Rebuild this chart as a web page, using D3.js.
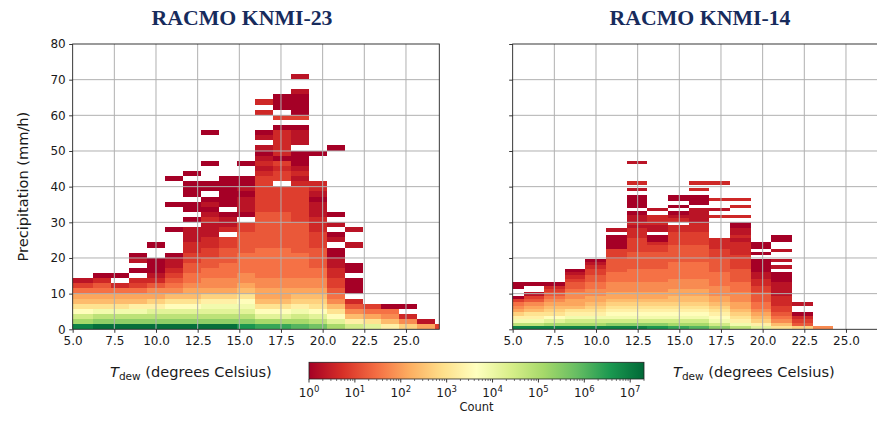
<!DOCTYPE html>
<html><head><meta charset="utf-8">
<script src="https://cdn.jsdelivr.net/npm/d3@7"></script>
<style>body{margin:0;background:#fff}svg{display:block}</style>
</head><body>
<svg id="chart" width="877" height="421"></svg>
<script>
// ---------- data ----------
const titles = ["RACMO KNMI-23", "RACMO KNMI-14"];
const xTicks = [5.0, 7.5, 10.0, 12.5, 15.0, 17.5, 20.0, 22.5, 25.0];
const yTicks = [0, 10, 20, 30, 40, 50, 60, 70, 80];
const cbarTicks = [1, 10, 100, 1000, 10000, 100000, 1000000, 10000000];
const cbarExponents = ["0", "1", "2", "3", "4", "5", "6", "7"];
// count level for letters a..y (approximate counts read from colours)
const countLevels = [1, 2, 4, 8, 16, 32, 63, 126, 251, 501, 1000, 2000, 3980, 7940,
  15800, 31600, 63100, 126000, 251000, 501000, 1000000, 2000000, 3980000, 7940000, 15800000];

// Left panel (KNMI-23): T_dew bin edges, precipitation bin height, columns (bottom row first, '.' = empty)
const leftXEdges = [4.04, 5.12, 6.20, 7.28, 8.36, 9.44, 10.52, 11.60, 12.68, 13.76, 14.84, 15.92,
  17.00, 18.08, 19.16, 20.24, 21.32, 22.40, 23.48, 24.56, 25.64, 26.72, 27.80];
const leftRowHeight = 1.432;
const leftColumns = [
  "xrpmkihfdb",
  "xrpmkihfdb",
  "ysqnkihfeca",
  "ysqnkihfc.a",
  "ysqnlihfdc.a.ba",
  "ysqoljhgecbaaa..a",
  "ysqomkigfedcbba....a....a....a",
  "ysqomkihgffeeddccbbb.a.aa.aaa.a",
  "ysqonljhggffeeddccbbbcbaba.aa...a.....a",
  "ysqonljhggfffeeedd.cbba.aaaaaa",
  "wsqonmkihggffffeeeedd.abbbabaa..a",
  "vromkihhggffffffeeeeeeedddddddcbcbab.ba...c.c",
  "vromkihhggffffffeeeeeeeddddd.ddcdaccccca.d.aaa",
  "urpnljihggfffffeeeeeedddddddcbcbaaa.bbba.daaaab..b",
  "tqomkjihggffeeeedddcccbbbabcc.....a",
  "romkigfeddccbbaa.ba.b.a............a",
  "pligec.aaa.aa...b..b",
  "okhfd",
  "ligfa",
  "jgc.a",
  "hb",
  "d"
];

// Right panel (KNMI-14)
const rightXEdges = [4.41, 5.65, 6.89, 8.13, 9.37, 10.61, 11.85, 13.09, 14.33, 15.57, 16.81,
  18.05, 19.28, 20.52, 21.76, 23.00, 24.24];
const rightRowHeight = 0.944;
const rightColumns = [
  "xqnljhgfda..aa",
  "xqnlkihgedb..a",
  "xromkjihgfedca",
  "xrpnlkihhggfeedcba",
  "xrpnlkjihhggffeeddcba",
  "xspnmlkjihhgggfffeeeedddaaaa.b",
  "xspnmlkjihhgggffffeeeeeddddcccbcbba.aaaa.b.c.....b",
  "wspnmlkjihhgggffffeeeeeddcaa.bbccc.b",
  "vrpnmlkjiihhgggfffffeeeeeddddcc.cba.a.aa",
  "urpnmlkjiihhgggfffffeeeeeddddcccbbbb.aaa.c.c",
  "spnmlkjihhgggffffeeeedddccc......c.b..c....c",
  "qnlkjihhgggfffeeeeddddccccbcbbaa.c..c.c",
  "oljihgffeeeddccbbaaaa.a.aa",
  "kigfeddcccbbbbaaa.b.b..b..aa",
  "jedca..b",
  "g"
];

// ---------- drawing ----------
const svg = d3.select("#chart");
const FONT = "DejaVu Sans, sans-serif";
const TOP = 44, BOTTOM = 329.3;
const color = d3.scaleSequentialLog(d3.piecewise(d3.interpolateRgb, d3.schemeRdYlGn[11]))
  .domain([1, 2e7]);

const panels = [
  {title: titles[0], x0: 72.67, x1: 439.3, edges: leftXEdges, rowH: leftRowHeight, cols: leftColumns, titleX: 242, labelX: 110, yLabels: true},
  {title: titles[1], x0: 512.67, x1: 879.3, edges: rightXEdges, rowH: rightRowHeight, cols: rightColumns, titleX: 700, labelX: 673, yLabels: false}
];

panels.forEach((p, i) => {
  const xs = d3.scaleLinear().domain([5, 27]).range([p.x0, p.x1]);
  const ys = d3.scaleLinear().domain([0, 80]).range([BOTTOM, TOP]);
  const g = svg.append("g");
  const clipId = "clip" + i;
  svg.append("clipPath").attr("id", clipId).append("rect")
    .attr("x", p.x0).attr("y", TOP).attr("width", p.x1 - p.x0).attr("height", BOTTOM - TOP);

  const cells = [];
  p.cols.forEach((s, ci) => {
    [...s].forEach((ch, r) => {
      if (ch === ".") return;
      cells.push({x0: p.edges[ci], x1: p.edges[ci + 1], y0: r * p.rowH, y1: (r + 1) * p.rowH,
        count: countLevels[ch.charCodeAt(0) - 97]});
    });
  });
  g.append("g").attr("clip-path", `url(#${clipId})`)
    .selectAll("rect").data(cells).join("rect")
    .attr("x", d => xs(d.x0)).attr("width", d => xs(d.x1) - xs(d.x0))
    .attr("y", d => ys(d.y1)).attr("height", d => ys(d.y0) - ys(d.y1))
    .attr("fill", d => color(d.count))
    .attr("shape-rendering", "crispEdges");

  // grid
  const grid = g.append("g").attr("stroke", "#b0b0b0").attr("stroke-width", 1);
  grid.selectAll("line.v").data(xTicks.filter(t => t > 5)).join("line").attr("class", "v")
    .attr("x1", d => xs(d)).attr("x2", d => xs(d)).attr("y1", TOP).attr("y2", BOTTOM);
  grid.selectAll("line.h").data(yTicks.filter(t => t > 0 && t < 80)).join("line").attr("class", "h")
    .attr("x1", p.x0).attr("x2", p.x1).attr("y1", d => ys(d)).attr("y2", d => ys(d));

  // axes
  const xa = g.append("g").attr("transform", `translate(0,${BOTTOM})`)
    .call(d3.axisBottom(xs).tickValues(xTicks).tickFormat(d3.format(".1f")).tickSize(3.5).tickPadding(4));
  const ya = g.append("g").attr("transform", `translate(${p.x0},0)`)
    .call(d3.axisLeft(ys).tickValues(yTicks).tickSize(3.5).tickPadding(3.5)
      .tickFormat(p.yLabels ? d3.format("d") : () => ""));
  [xa, ya].forEach(a => {
    a.select(".domain").remove();
    a.selectAll("line").attr("stroke", "#222").attr("stroke-width", 0.9);
    a.selectAll("text").attr("font-family", FONT).attr("font-size", "12px").attr("fill", "#1a1a1a");
  });

  // spines
  g.append("rect").attr("x", p.x0).attr("y", TOP).attr("width", p.x1 - p.x0).attr("height", BOTTOM - TOP)
    .attr("fill", "none").attr("stroke", "#222").attr("stroke-width", 0.9);

  // title
  svg.append("text").attr("x", p.titleX).attr("y", 25).attr("text-anchor", "middle")
    .attr("font-family", "Liberation Serif, DejaVu Serif, serif").attr("font-weight", "bold")
    .attr("font-size", "20px").attr("fill", "#172b5c")
    .attr("textLength", 181).attr("lengthAdjust", "spacingAndGlyphs")
    .text(p.title);

  // x label
  const xl = svg.append("text").attr("x", p.labelX).attr("y", 377)
    .attr("font-family", FONT).attr("font-size", "14.6px").attr("fill", "#1a1a1a");
  xl.append("tspan").attr("font-style", "italic").text("T");
  xl.append("tspan").attr("font-size", "10.5px").attr("dy", 3).text("dew");
  xl.append("tspan").attr("dy", -3).text(" (degrees Celsius)");
});

// y label
svg.append("text").attr("transform", `translate(27.5,${(TOP + BOTTOM) / 2}) rotate(-90)`)
  .attr("text-anchor", "middle").attr("font-family", FONT).attr("font-size", "14.6px").attr("fill", "#1a1a1a")
  .text("Precipitation (mm/h)");

// colour bar
const cb = {x0: 309, x1: 644, y0: 362.3, y1: 379};
const cs = d3.scaleLog().domain([1, 2e7]).range([cb.x0, cb.x1]);
const grad = svg.append("defs").append("linearGradient").attr("id", "cbgrad")
  .attr("x1", "0%").attr("x2", "100%").attr("y1", "0%").attr("y2", "0%");
d3.range(0, 1.0001, 0.02).forEach(t => {
  grad.append("stop").attr("offset", (t * 100) + "%").attr("stop-color", color(Math.pow(10, t * Math.log10(2e7))));
});
svg.append("rect").attr("x", cb.x0).attr("y", cb.y0).attr("width", cb.x1 - cb.x0).attr("height", cb.y1 - cb.y0)
  .attr("fill", "url(#cbgrad)").attr("stroke", "#222").attr("stroke-width", 0.8);
const minor = [];
for (let k = 0; k < 8; k++) for (let m = 2; m <= 9; m++) { const v = m * Math.pow(10, k); if (v <= 2e7) minor.push(v); }
svg.append("g").selectAll("line").data(minor).join("line")
  .attr("x1", d => cs(d)).attr("x2", d => cs(d)).attr("y1", cb.y1).attr("y2", cb.y1 + 2)
  .attr("stroke", "#222").attr("stroke-width", 0.6);
svg.append("g").selectAll("line").data(cbarTicks).join("line")
  .attr("x1", d => cs(d)).attr("x2", d => cs(d)).attr("y1", cb.y1).attr("y2", cb.y1 + 3.5)
  .attr("stroke", "#222").attr("stroke-width", 0.9);
const lab = svg.append("g").selectAll("text").data(cbarTicks).join("text")
  .attr("x", d => cs(d)).attr("y", 397).attr("text-anchor", "middle")
  .attr("font-family", FONT).attr("font-size", "12px").attr("fill", "#1a1a1a");
lab.append("tspan").text("10");
lab.append("tspan").attr("font-size", "8.5px").attr("dy", -5).text((d, i) => cbarExponents[i]);
svg.append("text").attr("x", (cb.x0 + cb.x1) / 2).attr("y", 410.5).attr("text-anchor", "middle")
  .attr("font-family", FONT).attr("font-size", "11.5px").attr("fill", "#1a1a1a").text("Count");
</script>
</body></html>
